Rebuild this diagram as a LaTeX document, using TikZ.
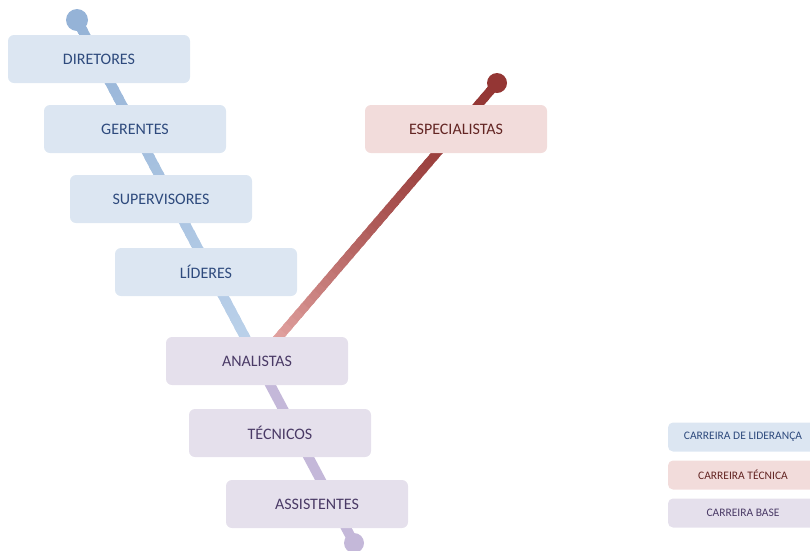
\documentclass[tikz,border=0pt]{standalone}
\usepackage{fontspec}
\setmainfont{Carlito}
\usetikzlibrary{calc}
\definecolor{bluefill}{HTML}{DCE6F2}
\definecolor{bluetext}{HTML}{2E4A7D}
\definecolor{redfill}{HTML}{F2DCDB}
\definecolor{redtext}{HTML}{632523}
\definecolor{purfill}{HTML}{E5E0EC}
\definecolor{purtext}{HTML}{4A3A66}
\definecolor{bluedark}{HTML}{95B3D7}
\definecolor{bluelight}{HTML}{BCD2EA}
\definecolor{purline}{HTML}{C4B8D9}
\definecolor{reddark}{HTML}{943634}
\definecolor{redlight}{HTML}{E3A4A2}
\begin{document}
\begin{tikzpicture}[x=1pt,y=-1pt,
  level/.style={rounded corners=6pt, minimum width=182pt, minimum height=48pt,
    inner sep=0pt, font=\fontsize{16}{19}\selectfont},
  lead/.style={level, fill=bluefill, text=bluetext},
  tech/.style={level, fill=redfill, text=redtext},
  base/.style={level, fill=purfill, text=purtext},
  key/.style={rounded corners=5pt, minimum width=150pt, minimum height=29pt,
    inner sep=0pt, font=\fontsize{11.5}{13}\selectfont},
  track/.style={line width=10pt},
]
\useasboundingbox (0,0) rectangle (810,550);

% end points of the two career tracks
\coordinate (ltop) at (77,20);
\coordinate (lbot) at (354,543);
\coordinate (lmid) at ($(ltop)!0.65!(lbot)$);
\coordinate (rtop) at (497,83);
\coordinate (rbot) at (272,345);

% leadership track: darker blue at the top, lighter towards the base
\foreach \i in {0,...,39} {
  \pgfmathsetmacro\a{\i/40}
  \pgfmathsetmacro\b{min(1,(\i+1.4)/40)}
  \pgfmathsetmacro\c{100*\i/39}
  \draw[track, color=bluelight!\c!bluedark] ($(ltop)!\a!(lmid)$) -- ($(ltop)!\b!(lmid)$);
}
% base track
\draw[track, color=purline] (lmid) -- (lbot);
% technical track: dark red at the top, lighter towards the base
\foreach \i in {0,...,39} {
  \pgfmathsetmacro\a{\i/40}
  \pgfmathsetmacro\b{min(1,(\i+1.4)/40)}
  \pgfmathsetmacro\c{100*(\i/39)^1.8}
  \draw[track, line width=9pt, color=redlight!\c!reddark] ($(rtop)!\a!(rbot)$) -- ($(rtop)!\b!(rbot)$);
}
\fill[bluedark] (ltop) circle[radius=11pt];
\fill[purline] (lbot) circle[radius=10pt];
\fill[reddark] (rtop) circle[radius=10pt];

% career levels
\node[lead] (dir) at (99,59)  {DIRETORES};
\node[lead] (ger) at (135,129) {GERENTES};
\node[lead] (sup) at (161,199) {SUPERVISORES};
\node[lead] (lid) at (206,272) {LÍDERES};
\node[tech] (esp) at (456,129) {ESPECIALISTAS};
\node[base] (ana) at (257,361) {ANALISTAS};
\node[base] (tec) at (280,433) {TÉCNICOS};
\node[base] (ass) at (317,504) {ASSISTENTES};

% legend
\begin{scope}
\clip (0,0) rectangle (810,550);
\node[key, fill=bluefill, text=bluetext] (k1) at (743,437) {CARREIRA DE LIDERANÇA};
\node[key, fill=redfill, text=redtext] (k2) at (743,475) {CARREIRA TÉCNICA};
\node[key, fill=purfill, text=purtext] (k3) at (743,513) {CARREIRA BASE};
\end{scope}
\end{tikzpicture}
\end{document}
